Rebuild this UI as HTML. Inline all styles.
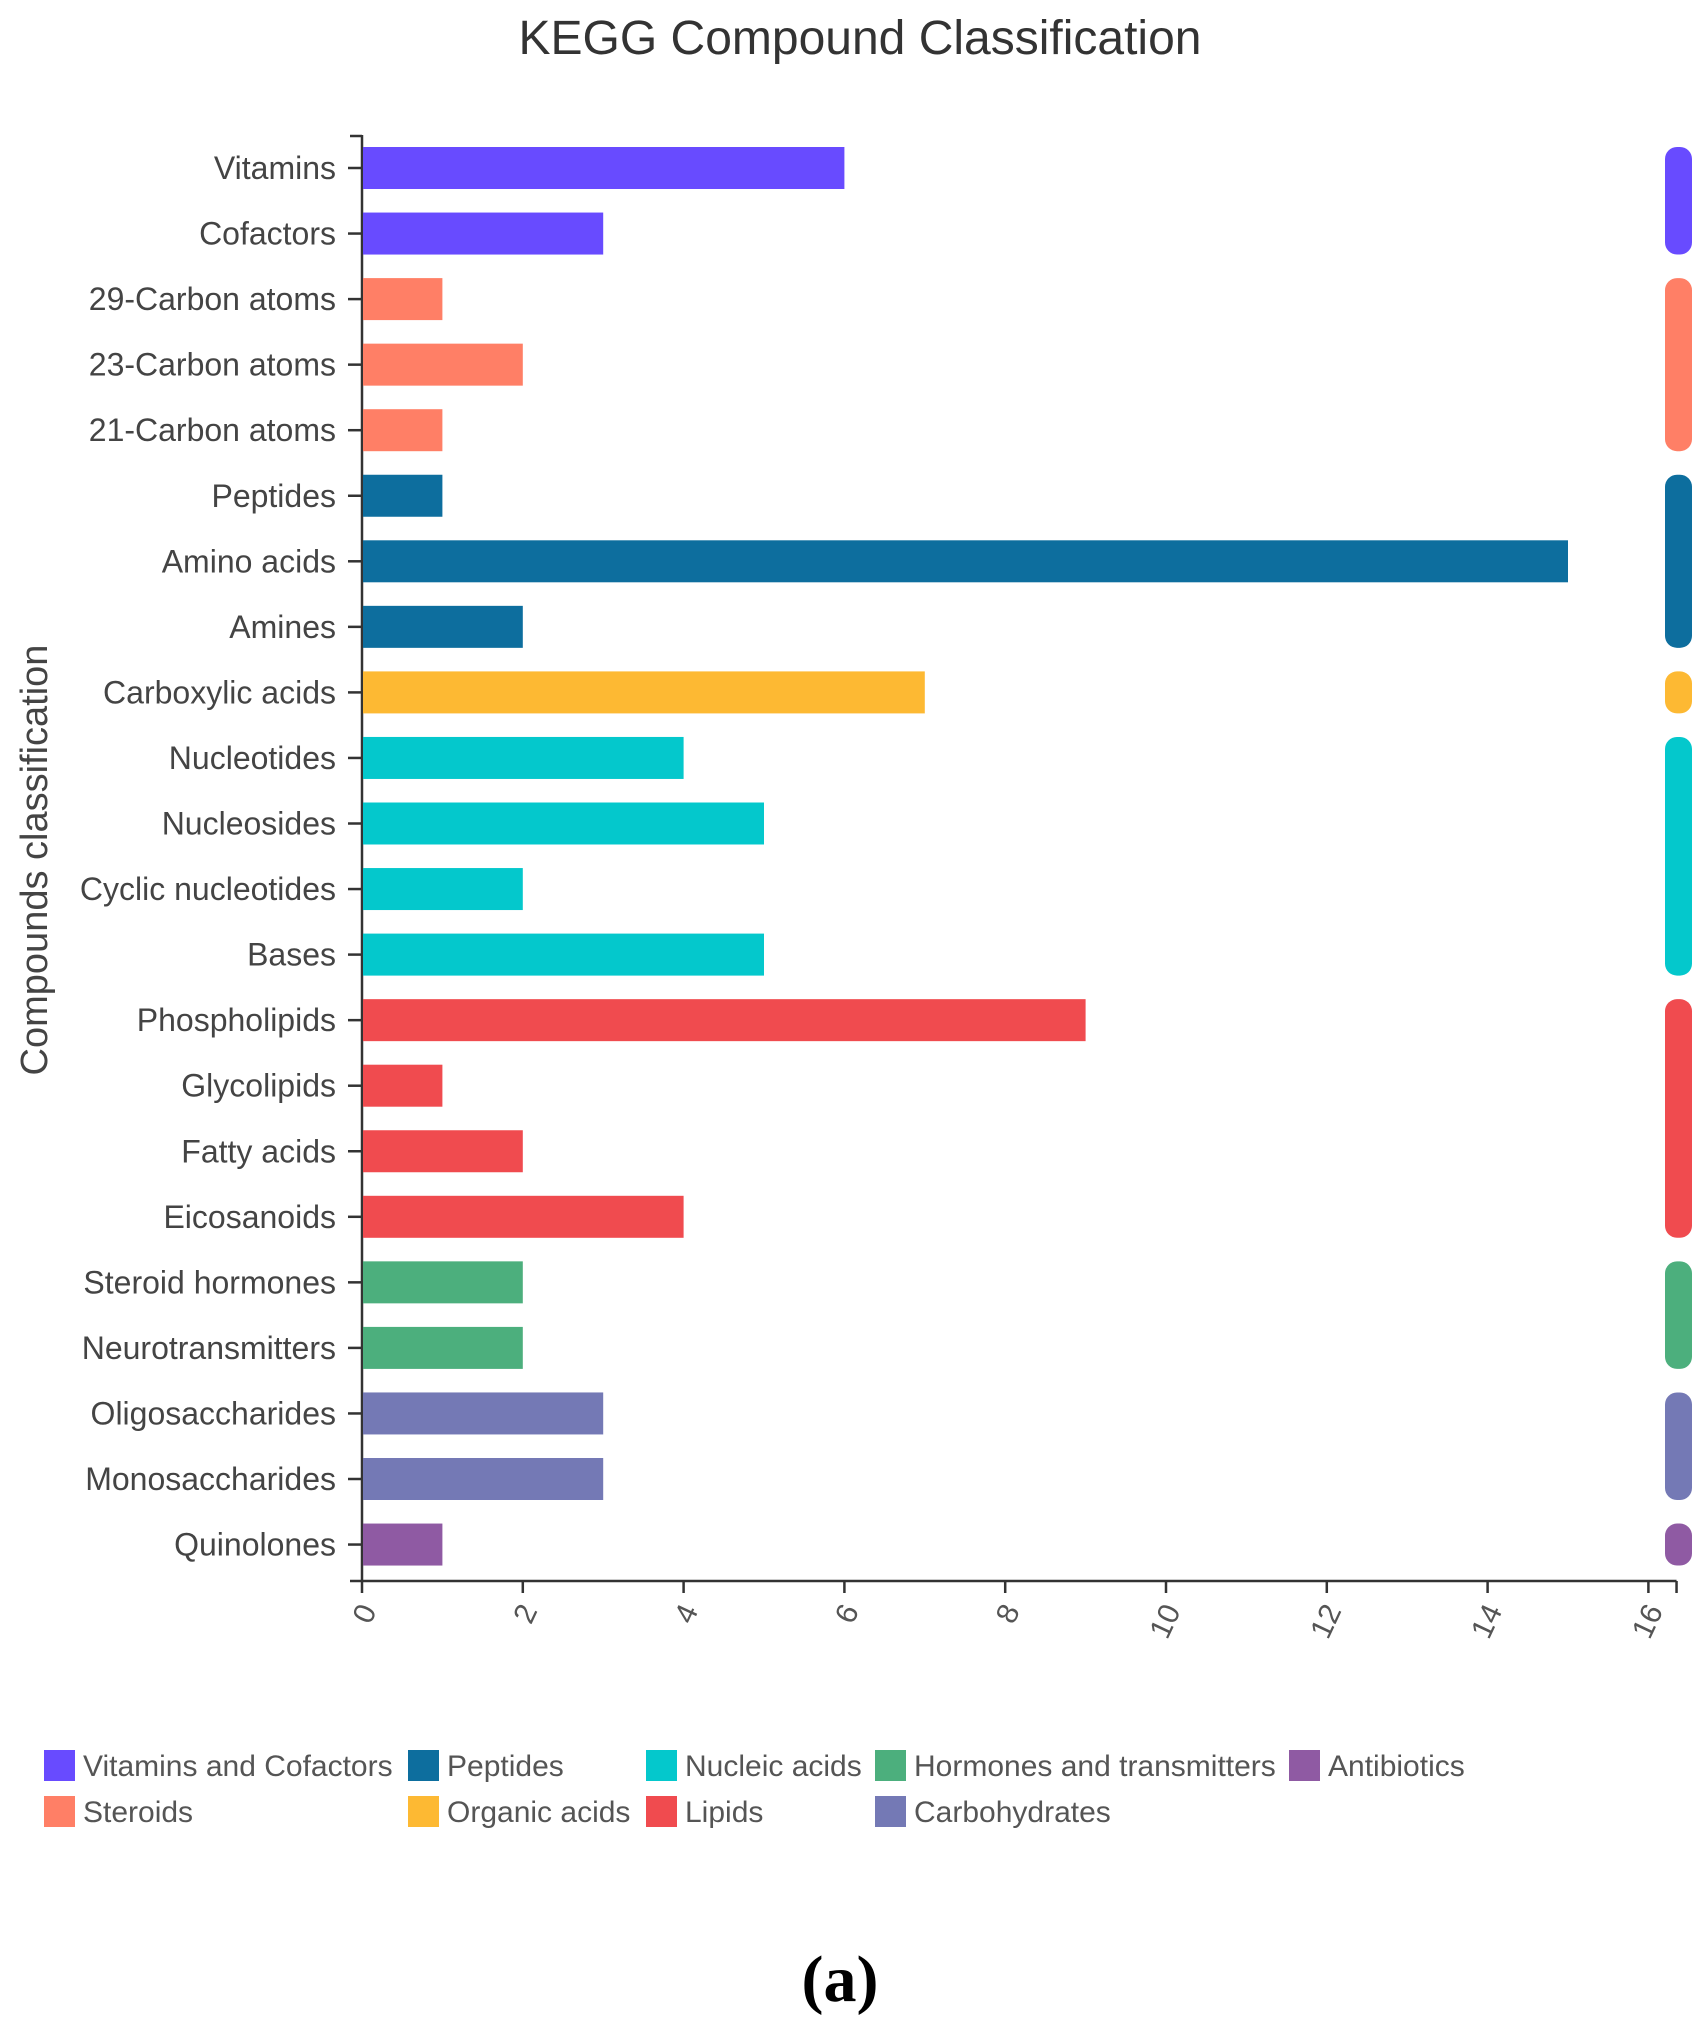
<!DOCTYPE html>
<html><head><meta charset="utf-8"><style>
html,body{margin:0;padding:0;background:#fff;}
svg{display:block;font-family:"Liberation Sans",sans-serif;}
</style></head><body>
<svg id="chart" width="1707" height="2034" viewBox="0 0 1707 2034">
<text x="860" y="54" text-anchor="middle" font-size="48" fill="#333">KEGG Compound Classification</text>
<text transform="translate(47,860) rotate(-90)" text-anchor="middle" font-size="38" fill="#444">Compounds classification</text>
<g id="plot"></g>
<g id="legend"></g>
<text x="840" y="2001" text-anchor="middle" font-size="66" font-weight="bold" font-family="Liberation Serif,serif" fill="#000">(a)</text>
</svg>
<script>
const categories=["Vitamins","Cofactors","29-Carbon atoms","23-Carbon atoms","21-Carbon atoms","Peptides","Amino acids","Amines","Carboxylic acids","Nucleotides","Nucleosides","Cyclic nucleotides","Bases","Phospholipids","Glycolipids","Fatty acids","Eicosanoids","Steroid hormones","Neurotransmitters","Oligosaccharides","Monosaccharides","Quinolones"];
const values=[6,3,1,2,1,1,15,2,7,4,5,2,5,9,1,2,4,2,2,3,3,1];
const groupOf=[0,0,1,1,1,2,2,2,3,4,4,4,4,5,5,5,5,6,6,7,7,8];
const groupNames=["Vitamins and Cofactors","Steroids","Peptides","Organic acids","Nucleic acids","Lipids","Hormones and transmitters","Carbohydrates","Antibiotics"];
const groupColors=["#684bff","#ff7f66","#0d6e9e","#fdb933","#04c8cc","#f04b4f","#4caf7d","#7479b5","#8f5aa3"];
const xTicks=[0,2,4,6,8,10,12,14,16];

const NS="http://www.w3.org/2000/svg";
const x0=362,unit=80.4,y0=168,step=65.55,bh=42,axisY=1581;
const X=v=>x0+v*unit, Y=i=>y0+i*step;
function mk(tag,attrs,parent){const e=document.createElementNS(NS,tag);for(const k in attrs)e.setAttribute(k,attrs[k]);parent.appendChild(e);return e;}
const plot=document.getElementById('plot');
const ya=mk('line',{x1:x0,y1:135,x2:x0,y2:axisY,stroke:'#333','stroke-width':2.5},plot);


mk('line',{x1:x0-12,y1:136,x2:x0,y2:136,stroke:'#333','stroke-width':2.5},plot);
const xa=mk('line',{x1:x0-12,y1:axisY,x2:X(16.35),y2:axisY,stroke:'#333','stroke-width':2.5},plot);


mk('line',{x1:X(16.35),y1:axisY,x2:X(16.35),y2:axisY+12,stroke:'#333','stroke-width':2.5},plot);
xTicks.forEach(t=>{
  mk('line',{x1:X(t),y1:axisY,x2:X(t),y2:axisY+12,stroke:'#333','stroke-width':2.5},plot);
  const tx=mk('text',{transform:`translate(${X(t)+8},${axisY+26}) rotate(-65)`,'text-anchor':'end','dominant-baseline':'middle','font-size':30,fill:'#555'},plot);
  tx.textContent=t;
  
  
});
categories.forEach((c,i)=>{
  const y=Y(i);
  mk('line',{x1:x0-14,y1:y,x2:x0,y2:y,stroke:'#333','stroke-width':2.5},plot);
  const lt=mk('text',{x:x0-26,y:y+11,'text-anchor':'end','font-size':32,fill:'#444'},plot);
  lt.textContent=c;
  
  
  const r=mk('rect',{x:x0+1,y:y-bh/2,width:X(values[i])-x0-1,height:bh,fill:groupColors[groupOf[i]]},plot);
  
  
});
groupNames.forEach((g,gi)=>{
  const idx=groupOf.map((v,i)=>v===gi?i:-1).filter(i=>i>=0);
  const top=Y(idx[0])-bh/2, bot=Y(idx[idx.length-1])+bh/2;
  const r=mk('rect',{x:1665,y:top,width:27,height:bot-top,rx:12,ry:12,fill:groupColors[gi]},plot);
  
  
});
const leg=document.getElementById('legend');
const legPos=[[44,1766],[44,1812],[408,1766],[408,1812],[646,1766],[646,1812],[875,1766],[875,1812],[1289,1766]];
groupNames.forEach((g,gi)=>{
  const [lx,ly]=legPos[gi];
  const grp=mk('g',{},leg);
  
  
  mk('rect',{x:lx,y:ly-16,width:31,height:31,fill:groupColors[gi]},grp);
  const t=mk('text',{x:lx+39,y:ly+10,'font-size':30,fill:'#555'},grp);
  t.textContent=g;
});
</script>
</body></html>
